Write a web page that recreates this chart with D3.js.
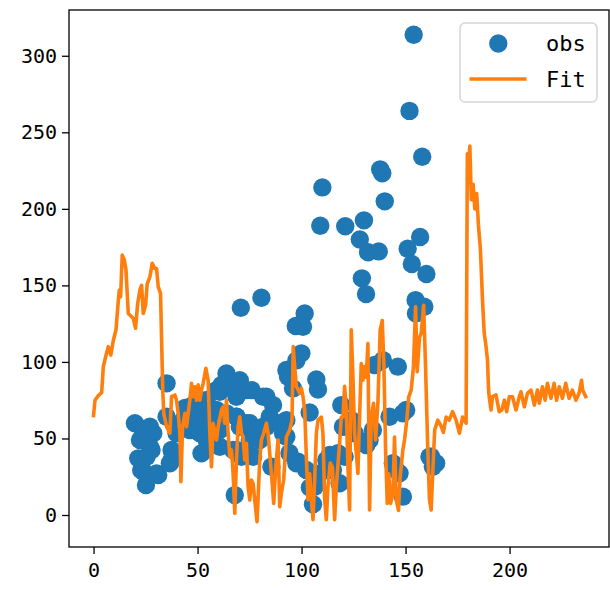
<!DOCTYPE html>
<html><head><meta charset="utf-8">
<script src="https://cdn.jsdelivr.net/npm/d3@7"></script>
<style>body{margin:0;background:#fff}svg{display:block}</style>
</head><body>
<svg id="c" width="610" height="590"></svg>
<script>
// observed points [x, y]
const obsX = [19.9,27.1,23.9,28.7,22.3,27.1,27.9,21.5,25.5,22.9,24,30.3,31.1,25.2,
35.1,35.1,39.9,37.5,36.7,37.5,46.3,49.5,46.3,51.1,54.4,51.9,47.9,51.1,54.4,59.1,63.9,60.7,61.5,63.9,70.3,73.5,68.7,68.7,73.5,75.1,76.7,71.1,60.7,60.7,67.1,67.9,70.8,80.7,43.1,
59.1,63.9,68.7,70.3,75.1,78.3,83.1,89.5,92.7,83.1,86.3,92.7,97.5,68.7,
76,81.5,84.7,81.5,79.9,90.3,91.1,85.5,
92.7,93.5,95.9,99.9,97.5,101.5,97.2,100.7,107.1,107.9,
103.9,98.3,102.3,94.2,104,105.5,
111.9,115.9,120.7,113.5,117.5,112.7,115.1,108.7,106.3,118.3,119.1,119.9,123.9,125.5,121.5,132.7,134.3,131.1,
135.1,139.1,146.3,142.3,148.7,150.3,143.9,145.5,147.1,148.7,162.3,164.7,161.5,163.1,
153.9,151.9,158,137.8,138.8,110,140,109,121,130,128,132,137.1,151,157,153,160,129,131,154.8,159,155,
44,48,53,56,57,41,56.5];
const obsY = [59.9,57.7,53.4,53.4,49,44.6,42.5,37,38,29.4,28.3,27.2,26.1,19.6,
86,64.2,53.4,42.5,33.8,35.9,68.6,64.2,55.5,53.4,49,40.3,59.9,68.6,75.1,81.6,83.8,80.5,85,92.5,88,81.6,77.3,64.2,59.9,49,38.1,38.1,55.5,44.6,42.5,13,135.4,141.9,62,
68.6,66.4,64.2,57.7,59.9,55.5,57.7,59.9,62,77.3,71.8,51.1,33.8,42.5,
81.6,77.3,64.2,57.7,49,59.9,53.4,31.5,
94.7,90.3,82.7,105.6,101,131.7,123.5,123,88.5,82,
67,34.8,29.4,40.5,18,7,
35.9,39.2,38.1,39.2,40.3,31.5,29.4,27.2,18.5,20.7,71.8,57.7,62,53.4,57.7,49,55.5,45.7,
98,101.2,96.9,64.2,66.4,68.6,33.8,29.4,27.2,12,38.1,33.8,38.1,31.5,
313.7,264,234,225.8,223.2,214,204.9,189,188.6,192.5,180,171.6,172.2,174,181.6,164,157.4,154.6,144.3,140.4,136,131.7,
70,72,62,58,52,57,66];

// fitted curve
const fitX = [0,0.7,2.3,3.9,4.7,6.3,7.1,8.3,9.5,10.8,11.9,12.4,13,13.8,14.8,15.6,16.7,18.3,19.1,20.2,21.2,22.3,23.1,23.9,25,25.8,27.1,28.2,29.5,30.3,31.1,32.2,33.3,33.8,
35.1,36.7,37.5,39.1,39.9,40.7,41.5,42,42.8,43.9,44.7,46.3,47.1,47.9,48.7,49.5,50.3,51.1,51.9,52.7,54,55.1,55.9,56.7,57.5,59.1,59.9,61.5,62.3,63.1,63.9,64.7,65.5,66.3,67.1,67.9,68.7,69.5,70.3,71.1,71.9,72.7,73.5,74.3,75.1,75.9,76.7,77.5,78.6,79.9,80.7,81.8,83.1,83.9,84.7,85.5,86.6,87.6,88.7,89.5,90.3,91.4,92.7,94.3,95.4,96,96.5,97.5,99.1,99.9,100.7,101.5,102.3,103.1,103.9,104.7,105.5,106.3,107.1,107.9,109.5,110.3,111.1,111.9,112.7,113.8,114.8,115.9,116.7,118.3,119.1,119.9,120.7,121.5,122.3,123.1,123.9,124.7,125.5,126.3,127.1,127.9,128.7,129.5,130.3,131.1,131.9,132.7,133.5,134.6,135.6,136.7,137.8,138.8,139.6,140.4,141.2,141.9,142.8,143.9,144.7,145.5,146.6,147.4,148.7,149.5,150.6,151.5,152.7,153.8,154.8,155.6,156.7,157.5,158.7,159.6,160.7,161.5,162.3,163.2,164,165.5,167.1,168.2,169.5,171,172.6,174.3,175.9,177.4,179.1,
179.7,180.3,180.9,181.6,182.5,183.3,184.2,185,186,187,187.8,188.7,189.4,189.9,190.2,191.1,191.8,193.5,195,196.3,197.5,198.6,199.9,201.4,203.1,204.7,205.5,207.1,208.6,210.3,211.9,213.4,214.3,215.8,217.1,218.2,219.9,221.4,222.6,223.9,225.4,227,228.6,230.2,231.9,233.4,234.6,235.1,236.6];
const fitY = [65,75,78,80,97,106,110,104.5,114,121,140,147,142.6,169.8,166.6,160,131.7,129.5,128.5,122,138,147,150,131.7,137,151,155.6,164.4,161,161,149,144.8,80,66,
57.7,53.4,77.3,78.4,75,66.4,53.4,21.8,57.7,66.4,57.7,75,86,77.3,83.8,75,85,75,81.6,86,95.8,88,53.4,31.5,59.9,49,57.7,68.6,70.7,59.9,75,53.4,38.1,42.5,27.2,1.1,36,57.7,64.2,53.4,51.1,36,46.8,18.5,9.8,22.9,20.7,9.8,-4.4,36,49,53.4,59.9,53.4,40.3,27.2,7.6,31.5,49,5.4,14.2,22.9,51.1,55.5,62,110,100,84,79.5,82.8,77.3,68.6,38,10,27,10,-3,23,53,62,64,53,10,-3,18.5,34,31.5,-3,18.5,47,64,64,84,68.6,31.5,3.3,121,90,53.4,40.3,27.2,64,99,88,97,90,112,3.3,64,73,49,73,121,127,97,42.5,7.6,27,7.6,14,51,10,3,25,42.5,49,62,77,81.6,97,136,93.6,116,118.7,137,97,42.5,10,3.3,31.5,55.5,62,58,54,64,62,67.5,62,53.4,64,60,
236,230,241,206,216,200,210,190,173,140,119,110,101,82,77.3,68.6,77.3,78.4,67.5,68.6,75,67.5,77.3,77.3,68.6,77.3,80.5,70.7,79.5,81.6,71.8,81.6,73,83.8,75,86,76.2,86,75,83.8,76.2,86,76.2,81.6,75,79.5,88,81.6,77.3];

const xTicks = [0,50,100,150,200];
const yTicks = [0,50,100,150,200,250,300];
const seriesNames = ["obs","Fit"];

const svg = d3.select("#c");
const L=69,R=609,T=10,B=547;
const x = d3.scaleLinear().domain([-11.8,247.8]).range([L,R]);
const y = d3.scaleLinear().domain([-20.9,329.9]).range([B,T]);
const FONT = "'DejaVu Sans Mono', monospace";

const plot = svg.append("g");
plot.selectAll("circle.obs").data(obsX.map((v,i)=>[v,obsY[i]])).enter().append("circle")
  .attr("cx",d=>x(d[0])).attr("cy",d=>y(d[1])).attr("r",9.2).attr("fill","#1f77b4");
const line = d3.line().x((d)=>x(d[0])).y(d=>y(d[1]));
plot.append("path").datum(fitX.map((v,i)=>[v,fitY[i]])).attr("d",line)
  .attr("fill","none").attr("stroke","#ff7f0e").attr("stroke-width",3.6).attr("stroke-linejoin","round").attr("stroke-linecap","square");

// axes
const xa = svg.append("g").attr("transform",`translate(0,${B})`)
  .call(d3.axisBottom(x).tickValues(xTicks).tickSize(7).tickPadding(5).tickFormat(d3.format("d")));
const ya = svg.append("g").attr("transform",`translate(${L},0)`)
  .call(d3.axisLeft(y).tickValues(yTicks).tickSize(7).tickPadding(5).tickFormat(d3.format("d")));
[xa,ya].forEach(a=>{a.select(".domain").remove();
  a.selectAll(".tick line").attr("stroke","#000").attr("stroke-width",1.3);
  a.selectAll("text").attr("font-family",FONT).attr("font-size",20).attr("fill","#000");});
xa.selectAll("text").attr("dy","0.9em");
svg.append("rect").attr("x",L).attr("y",T).attr("width",R-L).attr("height",B-T)
  .attr("fill","none").attr("stroke","#000").attr("stroke-width",1.3);

// legend
const lg = svg.append("g");
lg.append("rect").attr("x",460).attr("y",23).attr("width",137).attr("height",79).attr("rx",5)
  .attr("fill","#fff").attr("fill-opacity",0.8).attr("stroke","#d5d5d5").attr("stroke-width",1.5);
lg.append("circle").attr("cx",498.3).attr("cy",43.5).attr("r",9.2).attr("fill","#1f77b4");
lg.append("line").attr("x1",469.5).attr("x2",526.5).attr("y1",79).attr("y2",79).attr("stroke","#ff7f0e").attr("stroke-width",3.6);
lg.selectAll("text").data(seriesNames).enter().append("text")
  .attr("x",546).attr("y",(d,i)=>i?87:51).text(d=>d)
  .attr("font-family",FONT).attr("font-size",22).attr("fill","#000");
</script>
</body></html>
